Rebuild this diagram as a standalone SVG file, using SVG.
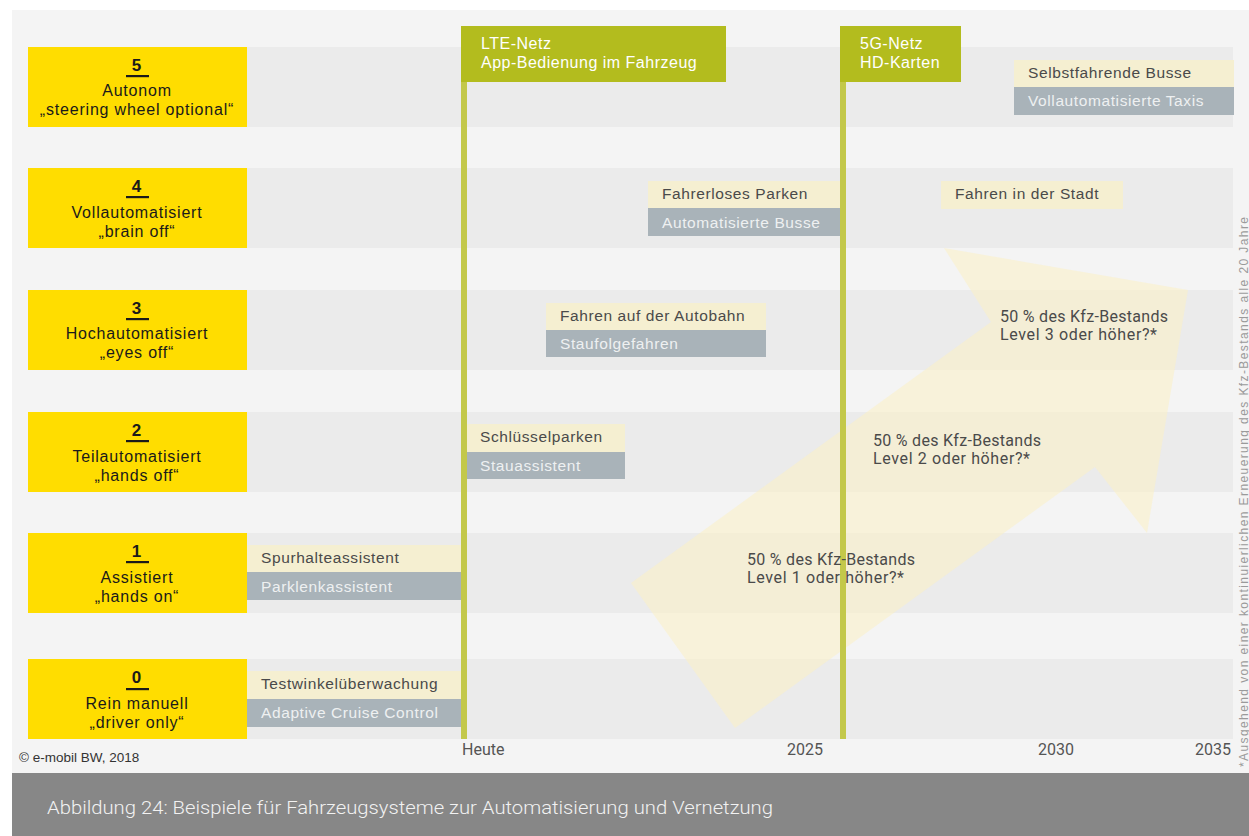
<svg xmlns="http://www.w3.org/2000/svg" width="1249" height="836" viewBox="0 0 1249 836">
<style>
.row{fill:#ebebeb}
.lvl{fill:#ffdd00}
.lt{font-family:"Liberation Sans",Arial,sans-serif;font-size:16px;fill:#1a1a1a;text-anchor:middle;letter-spacing:0.8px}
.num{font-weight:bold;font-size:17px}
.beige{fill:#f5efd1}
.grey{fill:#a9b3b9}
.bt{font-family:"Liberation Sans",Arial,sans-serif;font-size:15.5px;fill:#4a4a4a;letter-spacing:0.6px}
.gt{font-family:"Liberation Sans",Arial,sans-serif;font-size:15.5px;fill:#eef0f1;letter-spacing:0.6px}
.hdr{fill:#b3bc1e}
.ht{font-family:"Liberation Sans",Arial,sans-serif;font-size:16px;fill:#ffffff;letter-spacing:0.5px}
.vl{fill:#c3c84a}
.ax{font-family:"Roboto",sans-serif;font-size:16px;fill:#555555}
.pt{font-family:"Roboto",sans-serif;font-size:16px;fill:#4a4a4a}
</style>
<rect x="0" y="0" width="1249" height="836" fill="#ffffff"/>
<rect x="12" y="10" width="1237" height="763" fill="#f4f4f4"/>
<rect x="12" y="773" width="1237" height="63" fill="#878787"/>
<text x="47" y="814" font-family="Roboto,sans-serif" font-weight="300" font-size="17.5" fill="#f2f2f2" textLength="726" lengthAdjust="spacingAndGlyphs">Abbildung 24: Beispiele für Fahrzeugsysteme zur Automatisierung und Vernetzung</text>

<g id="rows">
<rect class="row" x="247" y="47" width="986" height="80"/>
<rect class="row" x="247" y="168" width="986" height="80"/>
<rect class="row" x="247" y="290" width="986" height="80"/>
<rect class="row" x="247" y="412" width="986" height="80"/>
<rect class="row" x="247" y="533" width="986" height="80"/>
<rect class="row" x="247" y="659" width="986" height="80"/>
</g>

<g id="trend-arrow">
<polygon points="631,583 735,728 1095,467 1147,533 1188,290 944,248 991,322" fill="#fbf1c4" opacity="0.55"/>
</g>

<g id="level5">
<rect class="lvl" x="28" y="47" width="219" height="80"/>
<text class="lt num" x="137" y="71">5</text>
<rect x="126" y="75" width="23" height="2.2" fill="#1a1a1a"/>
<text class="lt" x="137" y="96">Autonom</text>
<text class="lt" x="137" y="115">„steering wheel optional“</text>
</g>
<g id="level4">
<rect class="lvl" x="28" y="168" width="219" height="80"/>
<text class="lt num" x="137" y="192">4</text>
<rect x="126" y="196" width="23" height="2.2" fill="#1a1a1a"/>
<text class="lt" x="137" y="218">Vollautomatisiert</text>
<text class="lt" x="137" y="237">„brain off“</text>
</g>
<g id="level3">
<rect class="lvl" x="28" y="290" width="219" height="80"/>
<text class="lt num" x="137" y="314">3</text>
<rect x="126" y="318" width="23" height="2.2" fill="#1a1a1a"/>
<text class="lt" x="137" y="339">Hochautomatisiert</text>
<text class="lt" x="137" y="358">„eyes off“</text>
</g>
<g id="level2">
<rect class="lvl" x="28" y="412" width="219" height="80"/>
<text class="lt num" x="137" y="436">2</text>
<rect x="126" y="440" width="23" height="2.2" fill="#1a1a1a"/>
<text class="lt" x="137" y="462">Teilautomatisiert</text>
<text class="lt" x="137" y="481">„hands off“</text>
</g>
<g id="level1">
<rect class="lvl" x="28" y="533" width="219" height="80"/>
<text class="lt num" x="137" y="557">1</text>
<rect x="126" y="561" width="23" height="2.2" fill="#1a1a1a"/>
<text class="lt" x="137" y="583">Assistiert</text>
<text class="lt" x="137" y="602">„hands on“</text>
</g>
<g id="level0">
<rect class="lvl" x="28" y="659" width="219" height="80"/>
<text class="lt num" x="137" y="683">0</text>
<rect x="126" y="688" width="23" height="2.2" fill="#1a1a1a"/>
<text class="lt" x="137" y="709">Rein manuell</text>
<text class="lt" x="137" y="728">„driver only“</text>
</g>

<g id="tags">
<rect class="beige" x="1014" y="60" width="220" height="27"/>
<text class="bt" x="1028" y="78">Selbstfahrende Busse</text>
<rect class="grey" x="1014" y="87" width="220" height="28"/>
<text class="gt" x="1028" y="106">Vollautomatisierte Taxis</text>

<rect class="beige" x="648" y="181" width="193" height="27"/>
<text class="bt" x="662" y="199">Fahrerloses Parken</text>
<rect class="grey" x="648" y="208" width="197" height="28"/>
<text class="gt" x="662" y="228">Automatisierte Busse</text>

<rect class="beige" x="941" y="181" width="182" height="28"/>
<text class="bt" x="955" y="199">Fahren in der Stadt</text>

<rect class="beige" x="546" y="303" width="220" height="27"/>
<text class="bt" x="560" y="321">Fahren auf der Autobahn</text>
<rect class="grey" x="546" y="330" width="220" height="27"/>
<text class="gt" x="560" y="349">Staufolgefahren</text>

<rect class="beige" x="466" y="424" width="159" height="28"/>
<text class="bt" x="480" y="442">Schlüsselparken</text>
<rect class="grey" x="466" y="452" width="159" height="27"/>
<text class="gt" x="480" y="471">Stauassistent</text>

<rect class="beige" x="247" y="545" width="215" height="27"/>
<text class="bt" x="261" y="563">Spurhalteassistent</text>
<rect class="grey" x="247" y="572" width="215" height="28"/>
<text class="gt" x="261" y="592">Parklenkassistent</text>

<rect class="beige" x="247" y="671" width="215" height="28"/>
<text class="bt" x="261" y="689">Testwinkelüberwachung</text>
<rect class="grey" x="247" y="699" width="215" height="28"/>
<text class="gt" x="261" y="718">Adaptive Cruise Control</text>
</g>

<g id="connectors">
<rect class="vl" x="461" y="82" width="6" height="657"/>
<rect class="vl" x="840" y="82" width="6" height="657"/>
</g>

<g id="lte">
<rect class="hdr" x="461" y="26" width="265" height="56"/>
<text class="ht" x="481" y="49">LTE-Netz</text>
<text class="ht" x="481" y="68">App-Bedienung im Fahrzeug</text>
</g>
<g id="g5">
<rect class="hdr" x="840" y="26" width="121" height="56"/>
<text class="ht" x="860" y="49">5G-Netz</text>
<text class="ht" x="860" y="68">HD-Karten</text>
</g>

<g id="share-labels">
<text class="pt" x="747" y="565" textLength="168">50 % des Kfz-Bestands</text>
<text class="pt" x="747" y="583" textLength="157">Level 1 oder höher?*</text>
<text class="pt" x="873" y="446" textLength="168">50 % des Kfz-Bestands</text>
<text class="pt" x="873" y="464" textLength="157">Level 2 oder höher?*</text>
<text class="pt" x="1000" y="322" textLength="168">50 % des Kfz-Bestands</text>
<text class="pt" x="1000" y="340" textLength="157">Level 3 oder höher?*</text>
</g>

<g id="axis">
<text class="ax" x="462" y="755">Heute</text>
<text class="ax" x="823" y="755" text-anchor="end">2025</text>
<text class="ax" x="1074" y="755" text-anchor="end">2030</text>
<text class="ax" x="1231" y="755" text-anchor="end">2035</text>
</g>

<text x="19" y="762" font-family="'Liberation Sans',Arial,sans-serif" font-size="13.5" fill="#333333">© e-mobil BW, 2018</text>
<text transform="translate(1247.5,767) rotate(-90)" font-family="'Liberation Sans',Arial,sans-serif" font-size="12" fill="#9a9a9a" textLength="550" lengthAdjust="spacing">*Ausgehend von einer kontinuierlichen Erneuerung des Kfz-Bestands alle 20 Jahre</text>
</svg>
